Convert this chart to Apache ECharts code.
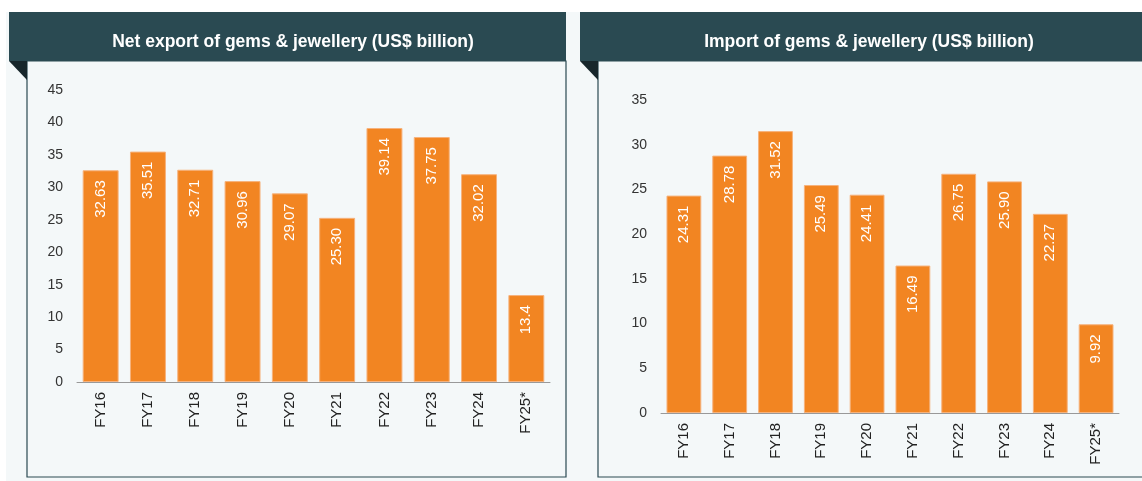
<!DOCTYPE html>
<html>
<head>
<meta charset="utf-8">
<script src="https://cdn.jsdelivr.net/npm/echarts@6/dist/echarts.min.js"></script>
<style>
  html, body { margin: 0; padding: 0; background: #fff; }
  #chart { width: 1142px; height: 481px; }
</style>
</head>
<body>
<div id="chart"></div>
<script>
// 数据
const categories = ['FY16', 'FY17', 'FY18', 'FY19', 'FY20', 'FY21', 'FY22', 'FY23', 'FY24', 'FY25*']
const netExport = [32.63, 35.51, 32.71, 30.96, 29.07, 25.30, 39.14, 37.75, 32.02, 13.4]
const netExportLabels = ['32.63', '35.51', '32.71', '30.96', '29.07', '25.30', '39.14', '37.75', '32.02', '13.4']
const imports = [24.31, 28.78, 31.52, 25.49, 24.41, 16.49, 26.75, 25.90, 22.27, 9.92]
const importLabels = ['24.31', '28.78', '31.52', '25.49', '24.41', '16.49', '26.75', '25.90', '22.27', '9.92']
const titles = ['Net export of gems & jewellery (US$ billion)', 'Import of gems & jewellery (US$ billion)']

const headerColor = '#2a4a52'
const foldColor = '#17262b'
const barColor = '#f28522'
const font = 'Liberation Sans, Arial, sans-serif'

const chart = echarts.init(document.getElementById('chart'))

// 通用坐标轴
const xAxisBase = (gridIndex) => ({
  type: 'category',
  gridIndex,
  data: categories,
  axisLine: { lineStyle: { color: '#999', width: 1 } },
  axisTick: { length: 5, lineStyle: { color: '#999' } },
  axisLabel: { rotate: 90, color: '#222', fontSize: 15, fontFamily: font, margin: 10 }
})

const yAxisBase = (gridIndex, max) => ({
  type: 'value',
  gridIndex,
  min: 0,
  max,
  interval: 5,
  splitLine: { show: false },
  axisLine: { show: false },
  axisTick: { show: false },
  axisLabel: { color: '#333', fontSize: 14, fontFamily: font, margin: 14 }
})

const barSeries = (idx, values, labels) => ({
  type: 'bar',
  xAxisIndex: idx,
  yAxisIndex: idx,
  data: values,
  barWidth: '76%',
  itemStyle: { color: barColor, borderColor: '#f6b27c', borderWidth: 1 },
  label: {
    show: true,
    position: 'insideTop',
    distance: 10,
    rotate: 90,
    align: 'right',
    verticalAlign: 'middle',
    color: '#fff',
    fontSize: 15,
    fontFamily: font,
    formatter: p => labels[p.dataIndex]
  }
})

// 面板和标题栏
const panel = (x0, x1) => [
  { type: 'rect', shape: { x: x0 + 18, y: 61, width: x1 - x0 - 18, height: 416 },
    style: { fill: '#f4f8f9', stroke: headerColor, lineWidth: 1.2 }, z: 0 },
  { type: 'rect', shape: { x: x0, y: 12, width: x1 - x0, height: 49 },
    style: { fill: headerColor }, z: 1 },
  { type: 'polygon', shape: { points: [[x0, 61], [x0 + 18, 61], [x0 + 18, 80]] },
    style: { fill: foldColor }, z: 1 }
]

chart.setOption({
  backgroundColor: '#fff',
  animation: false,
  graphic: [
    { type: 'rect', shape: { x: 6, y: 12, width: 1136, height: 469 }, style: { fill: '#f4f8f9' }, z: -1 },
    ...panel(9, 566),
    ...panel(580, 1150)
  ],
  title: [
    { text: titles[0], left: 288, top: 28, textAlign: 'center',
      textStyle: { color: '#fff', fontSize: 17.5, fontWeight: 'bold', fontFamily: font } },
    { text: titles[1], left: 864, top: 28, textAlign: 'center',
      textStyle: { color: '#fff', fontSize: 17.5, fontWeight: 'bold', fontFamily: font } }
  ],
  grid: [
    { left: 77, width: 473, top: 90, bottom: 99 },
    { left: 661, width: 458, top: 100, bottom: 68 }
  ],
  xAxis: [xAxisBase(0), xAxisBase(1)],
  yAxis: [yAxisBase(0, 45), yAxisBase(1, 35)],
  series: [
    barSeries(0, netExport, netExportLabels),
    barSeries(1, imports, importLabels)
  ]
})

window.addEventListener('resize', () => {
  chart.resize()
})
</script>
</body>
</html>
